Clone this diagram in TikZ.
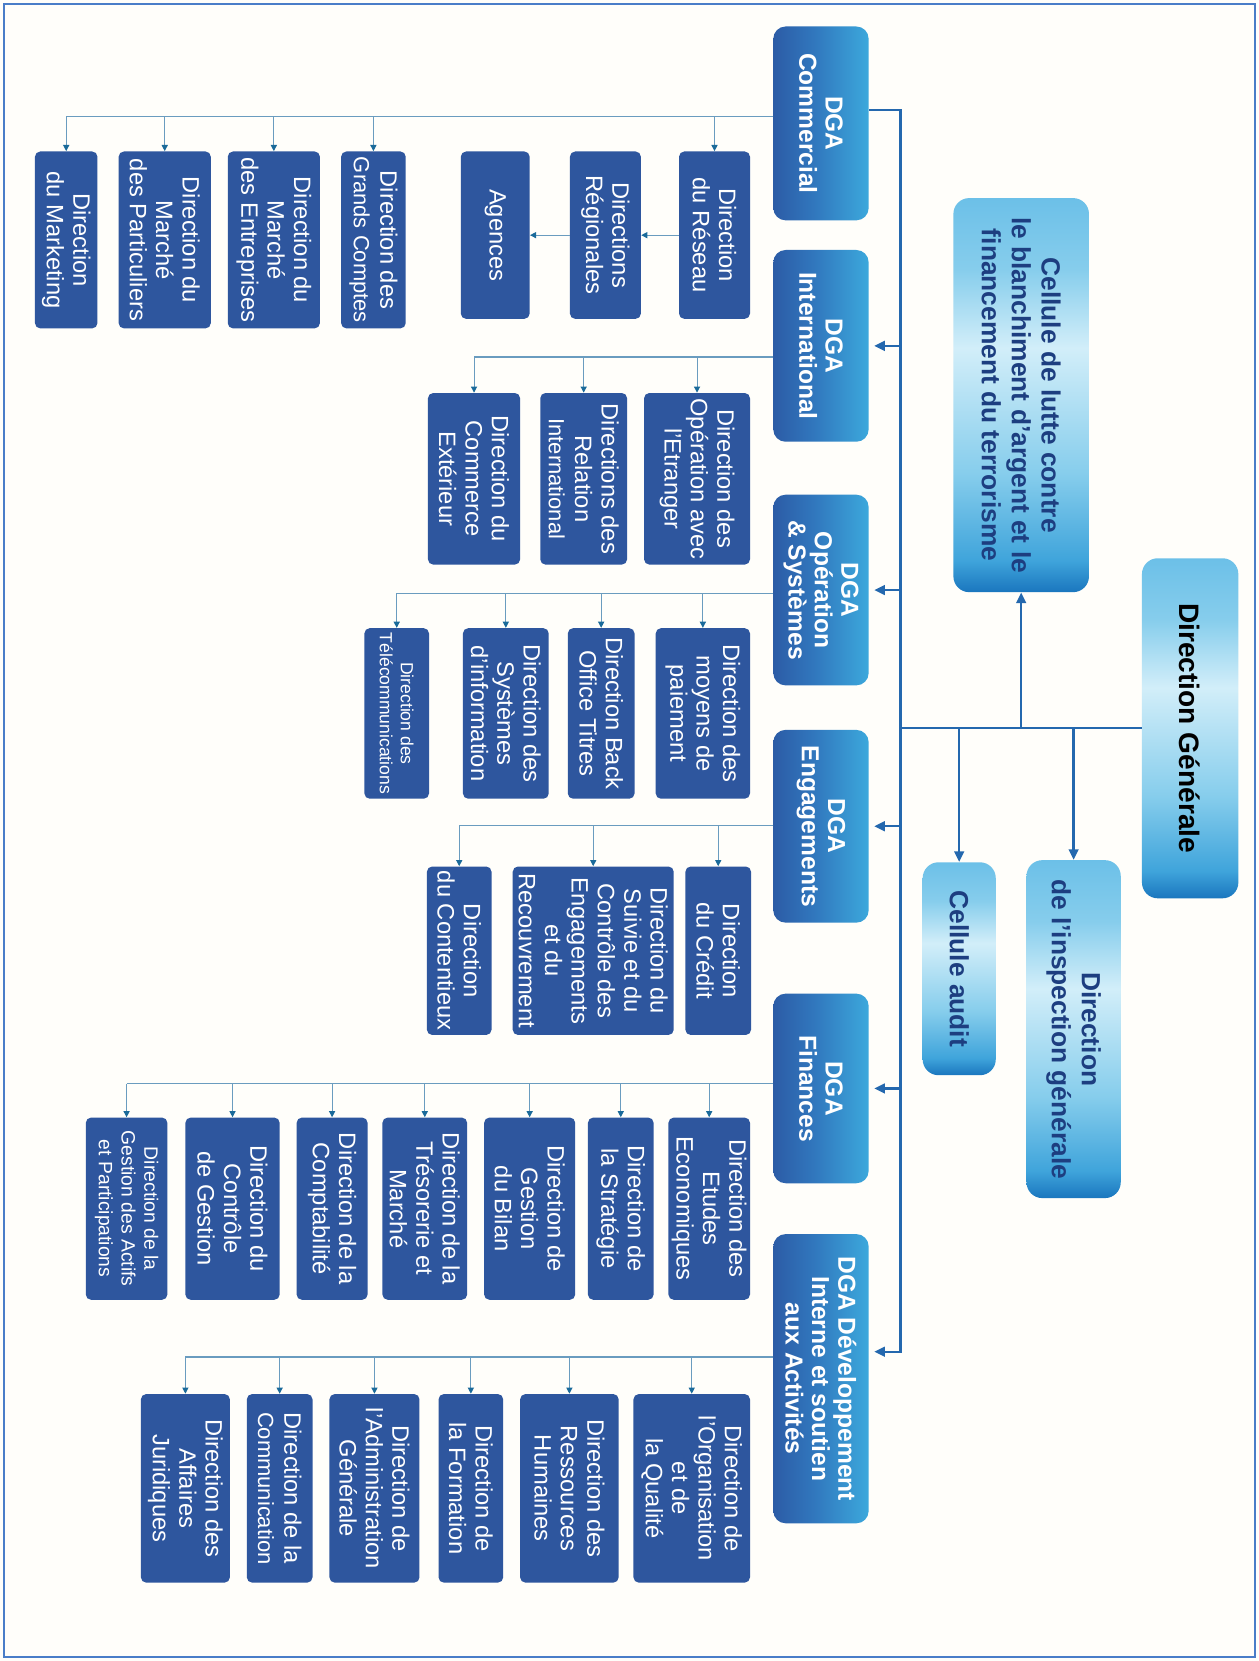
\documentclass[tikz,border=0pt]{standalone}
\usepackage{fontspec}
\setmainfont{Liberation Sans}
\usetikzlibrary{arrows.meta}

\definecolor{pagebg}{HTML}{FFFEFA}
\definecolor{framecol}{HTML}{4A7DC8}
\definecolor{childblue}{HTML}{2E569E}
\definecolor{dgadark}{HTML}{2C5CA6}
\definecolor{dgamid}{HTML}{3178BE}
\definecolor{dgalight}{HTML}{3CA8DC}
\definecolor{celtop}{HTML}{6CC0E8}
\definecolor{celhi}{HTML}{D2EEF9}
\definecolor{cellight}{HTML}{86CDEC}
\definecolor{celmid}{HTML}{3FA4DB}
\definecolor{celbot}{HTML}{1A76BE}
\definecolor{celtext}{HTML}{1D3E80}
\definecolor{trunkblue}{HTML}{2468AE}
\definecolor{branchblue}{HTML}{6A9CBF}
\definecolor{droptip}{HTML}{1A6A9A}

% la zone visible d'une ombre va de 25bp a 75bp
\pgfdeclarehorizontalshading{dgashade}{100bp}{color(0bp)=(dgadark); color(25bp)=(dgadark); color(47bp)=(dgamid); color(75bp)=(dgalight); color(100bp)=(dgalight)}
\pgfdeclareverticalshading{celshade}{100bp}{color(0bp)=(celbot); color(25bp)=(celbot); color(29bp)=(celmid); color(40bp)=(cellight); color(56bp)=(celhi); color(66bp)=(cellight); color(75bp)=(celtop); color(100bp)=(celtop)}

\begin{document}
\begin{tikzpicture}[x=0.0212cm, y=-0.0212cm,
    box/.style={rotate=-90, align=center, inner sep=1pt},
    sz/.style 2 args={minimum width=#1*0.0212cm, minimum height=#2*0.0212cm},
    dir/.style={box, fill=childblue, text=white, rounded corners=3pt, font=\fontsize{13.5}{15}\selectfont},
    dga/.style={box, shade, shading=dgashade, text=white, rounded corners=7pt, font=\bfseries\fontsize{14}{15}\selectfont},
    cel/.style={box, shade, shading=celshade, text=celtext, rounded corners=9pt, font=\bfseries\fontsize{15}{17}\selectfont},
    trunk/.style={draw=trunkblue, line width=1.3pt},
    trunkarr/.style={trunk, -{Triangle[length=6pt, width=5.5pt]}},
    branch/.style={draw=branchblue, line width=0.6pt},
    drop/.style={branch, -{Triangle[length=3.5pt, width=3.5pt, color=droptip]}}
]

    \useasboundingbox (0,0) rectangle (1188,1568);
    \fill[pagebg] (0,0) rectangle (1188,1568);
    \draw[framecol, line width=1.2pt] (3.5,3.8) rectangle (1184.5,1564);

    % Direction generale et cellules
    \node[cel, sz={321}{91}, text=black, font=\bfseries\fontsize{16}{18}\selectfont] (dg) at (1123.5,687.5) {Direction Générale};
    \node[cel, sz={372}{128}] (lutte) at (964,373) {Cellule de lutte contre\\le blanchiment d'argent et le\\financement du terrorisme};
    \node[cel, sz={201}{69}] (audit) at (905.5,914.5) {Cellule audit};
    \node[cel, sz={319}{89}] (insp) at (1013.5,971.5) {Direction\\de l'inspection générale};

    % DGA
    \node[dga, sz={183}{90}] (dgaCom) at (775,116.5) {DGA\\Commercial};
    \node[dga, sz={181}{90}] (dgaInt) at (775,326.5) {DGA\\International};
    \node[dga, sz={180}{90}] (dgaOpe) at (775,557) {DGA\\Opération\\\& Systèmes};
    \node[dga, sz={182}{90}] (dgaEng) at (775,780) {DGA\\Engagements};
    \node[dga, sz={179}{90}] (dgaFin) at (775,1027.5) {DGA\\Finances};
    \node[dga, sz={273}{90}] (dgaDev) at (775,1301.5) {DGA Développement\\Interne et soutien\\aux Activités};

    % Commercial
    \node[dir, sz={167}{59}] (mkt) at (62.5,226.5) {Direction\\du Marketing};
    \node[dir, sz={167}{87}] (part) at (155.5,226.5) {Direction du\\Marché\\des Particuliers};
    \node[dir, sz={167}{87}] (entr) at (258.5,226.5) {Direction du\\Marché\\des Entreprises};
    \node[dir, sz={167}{61}] (gc) at (352.5,226.5) {Direction des\\{\fontsize{12.5}{15}\selectfont Grands Comptes}};
    \node[dir, sz={158}{65}] (agences) at (467.5,222) {Agences};
    \node[dir, sz={158}{67}] (region) at (571.5,222) {Directions\\Régionales};
    \node[dir, sz={158}{67}] (reseau) at (674.5,222) {Direction\\du Réseau};

    % International
    \node[dir, sz={162}{87}] (comext) at (447.5,452) {Direction du\\Commerce\\Extérieur};
    \node[dir, sz={162}{82}] (relint) at (551,452) {Directions des\\Relation\\{\fontsize{12.5}{15}\selectfont International}};
    \node[dir, sz={162}{100}] (opetr) at (658,452) {Direction des\\Opération avec\\l'Etranger};

    % Operation et systemes
    \node[dir, sz={161}{61}, font=\fontsize{10}{12}\selectfont] (telecom) at (374.5,673.5) {Direction des\\Télécommunications};
    \node[dir, sz={161}{81}] (sysinfo) at (477.5,673.5) {Direction des\\Systèmes\\d'information};
    \node[dir, sz={161}{63}] (backoff) at (567.5,673.5) {Direction Back\\Office Titres};
    \node[dir, sz={161}{89}] (moyens) at (663.5,673.5) {Direction des\\moyens de\\paiement};

    % Engagements
    \node[dir, sz={159}{61}] (conten) at (433.5,897.5) {Direction\\du Contentieux};
    \node[dir, sz={159}{152}] (suivi) at (560,897.5) {Direction du\\Suivie et du\\Contrôle des\\Engagements\\et du\\Recouvrement};
    \node[dir, sz={159}{62}] (credit) at (678,897.5) {Direction\\du Crédit};

    % Finances
    \node[dir, sz={172}{77}, font=\fontsize{11}{13}\selectfont] (actifs) at (119.5,1141) {Direction de la\\Gestion des Actifs\\et Participations};
    \node[dir, sz={172}{89}] (cgestion) at (219.5,1141) {Direction du\\Contrôle\\de Gestion};
    \node[dir, sz={172}{67}] (compta) at (313.5,1141) {Direction de la\\Comptabilité};
    \node[dir, sz={172}{80}] (treso) at (401,1141) {Direction de la\\Trésorerie et\\Marché};
    \node[dir, sz={172}{86}] (bilan) at (500,1141) {Direction de\\Gestion\\du Bilan};
    \node[dir, sz={172}{62}] (strat) at (586,1141) {Direction de\\la Stratégie};
    \node[dir, sz={172}{77}] (etudes) at (669.5,1141) {Direction des\\Etudes\\Economiques};

    % Developpement interne
    \node[dir, sz={178}{84}] (jurid) at (175,1405) {Direction des\\Affaires\\Juridiques};
    \node[dir, sz={178}{62}] (comm) at (264,1405) {Direction de la\\{\fontsize{12.5}{15}\selectfont Communication}};
    \node[dir, sz={178}{85}] (admin) at (353.5,1405) {Direction de\\l'Administration\\Générale};
    \node[dir, sz={178}{61}] (forma) at (444.5,1405) {Direction de\\la Formation};
    \node[dir, sz={178}{93}] (rh) at (537.5,1405) {Direction des\\Ressources\\Humaines};
    \node[dir, sz={178}{110}] (orga) at (653,1405) {Direction de\\l'Organisation\\et de\\la Qualité};

    % Tronc principal
    \coordinate (tTop) at (850,104);
    \coordinate (tBot) at (850,1276);
    \draw[trunkarr, shorten >=3pt] (tTop -| dgaCom.north) -- (tTop) -- (tBot) -- (tBot -| dgaDev.north);
    \foreach \d in {dgaInt,dgaOpe,dgaEng,dgaFin}
        \draw[trunkarr, shorten >=3pt] (\d.north -| tTop) -- (\d.north);
    \draw[trunk] (dg.south) -- (dg.south -| tTop);
    \draw[trunkarr] (dg.south -| lutte.east) -- (lutte.east);
    \draw[trunkarr] (dg.south -| audit.west) -- (audit.west);
    \draw[trunkarr] (dg.south -| insp.west) -- (insp.west);

    % Branches des DGA
    \coordinate (bCom) at (730,110);
    \coordinate (bInt) at (730,337);
    \coordinate (bOpe) at (730,560);
    \coordinate (bEng) at (730,779);
    \coordinate (bFin) at (730,1023);
    \coordinate (bDev) at (730,1281);

    \draw[branch] (bCom) -- (bCom -| mkt.west);
    \foreach \c in {mkt,part,entr,gc,reseau}
        \draw[drop] (bCom -| \c.west) -- (\c.west);
    \draw[drop] (reseau.south) -- (region.north);
    \draw[drop] (region.south) -- (agences.north);

    \draw[branch] (bInt) -- (bInt -| comext.west);
    \foreach \c in {comext,relint,opetr}
        \draw[drop] (bInt -| \c.west) -- (\c.west);

    \draw[branch] (bOpe) -- (bOpe -| telecom.west);
    \foreach \c in {telecom,sysinfo,backoff,moyens}
        \draw[drop] (bOpe -| \c.west) -- (\c.west);

    \draw[branch] (bEng) -- (bEng -| conten.west);
    \foreach \c in {conten,suivi,credit}
        \draw[drop] (bEng -| \c.west) -- (\c.west);

    \draw[branch] (bFin) -- (bFin -| actifs.west);
    \foreach \c in {actifs,cgestion,compta,treso,bilan,strat,etudes}
        \draw[drop] (bFin -| \c.west) -- (\c.west);

    \draw[branch] (bDev) -- (bDev -| jurid.west);
    \foreach \c in {jurid,comm,admin,forma,rh,orga}
        \draw[drop] (bDev -| \c.west) -- (\c.west);

\end{tikzpicture}
\end{document}
